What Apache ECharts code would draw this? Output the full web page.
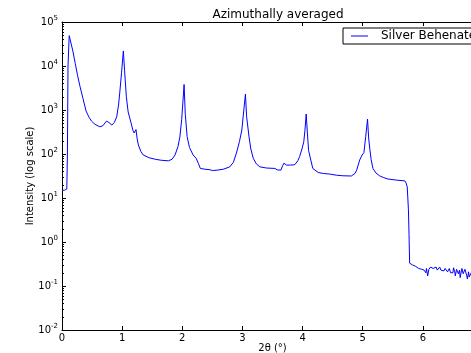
<!DOCTYPE html>
<html>
<head>
<meta charset="utf-8">
<script src="https://cdn.jsdelivr.net/npm/echarts@6/dist/echarts.min.js"></script>
<style>
  html, body { margin: 0; padding: 0; background: #fff; overflow: hidden; }
  #chart { width: 471px; height: 353px; }
</style>
</head>
<body>
<div id="chart"></div>
<script>
// 2theta positions (degrees)
const twoTheta = [
  0, 0.04, 0.08, 0.09, 0.10, 0.12, 0.14, 0.18, 0.22, 0.26, 0.30, 0.35, 0.40, 0.45, 0.49,
  0.55, 0.63, 0.68, 0.74, 0.78, 0.83, 0.87, 0.91, 0.94, 0.96, 0.99, 1.02, 1.04, 1.07, 1.10,
  1.15, 1.18, 1.20, 1.23, 1.25, 1.27, 1.31, 1.35, 1.45, 1.55, 1.65, 1.77, 1.83, 1.88, 1.93,
  1.96, 1.99, 2.01, 2.03, 2.05, 2.08, 2.12, 2.18, 2.23, 2.27, 2.30, 2.38, 2.46, 2.50, 2.58,
  2.68, 2.79, 2.85, 2.90, 2.95, 2.99, 3.02, 3.05, 3.07, 3.11, 3.14, 3.18, 3.23, 3.29, 3.40,
  3.54, 3.58, 3.64, 3.67, 3.69, 3.73, 3.80, 3.87, 3.92, 3.95, 3.99, 4.02, 4.04, 4.06, 4.08,
  4.10, 4.14, 4.17, 4.26, 4.35, 4.45, 4.56, 4.67, 4.81, 4.87, 4.90, 4.95, 4.99, 5.02, 5.05,
  5.08, 5.10, 5.12, 5.14, 5.17, 5.22, 5.28, 5.35, 5.42, 5.56, 5.70, 5.72, 5.74, 5.75, 5.76,
  5.77, 5.78, 5.80, 5.83, 5.86, 5.88, 5.90, 5.93, 5.95, 5.98, 6.00, 6.02, 6.03, 6.05, 6.06,
  6.08, 6.10, 6.11, 6.13, 6.15, 6.17, 6.18, 6.20, 6.22, 6.24, 6.26, 6.28, 6.30, 6.31, 6.33,
  6.35, 6.37, 6.39, 6.41, 6.42, 6.44, 6.46, 6.48, 6.50, 6.51, 6.53, 6.54, 6.56, 6.57, 6.59,
  6.61, 6.62, 6.64, 6.65, 6.67, 6.68, 6.70, 6.71, 6.73, 6.74, 6.76, 6.77, 6.79, 6.82, 6.86,
  6.90, 6.95, 7.00
];

// intensity (arbitrary units, log scale)
const intensity = [
  15, 15, 16, 100, 10000, 49000, 45000, 22000, 11500, 6000, 3400, 1800, 950, 680, 560,
  470, 415, 440, 560, 520, 455, 520, 700, 1300, 2450, 7000, 22000, 8000, 2000, 900,
  500, 340, 300, 360, 220, 160, 115, 95, 82, 76, 72, 70, 76, 95, 150,
  245, 600, 1500, 3800, 800, 250, 140, 95, 80, 60, 47, 45, 44, 42, 43,
  45, 51, 65, 105, 190, 350, 900, 2300, 700, 245, 130, 80, 60, 51, 48,
  47, 43.5, 43, 55, 62, 56, 56, 57, 70, 87, 130, 190, 350, 810, 300,
  120, 70, 47, 38, 36, 35, 33, 32, 31.6, 36, 43, 73, 95, 107, 250,
  620, 220, 124, 75, 47, 37, 32, 29, 27, 25.5, 24.5, 22, 18, 10, 5.4,
  1.5, 0.33, 0.32, 0.30, 0.29, 0.28, 0.27, 0.25, 0.26, 0.24, 0.255, 0.23, 0.25, 0.20, 0.25,
  0.17, 0.24, 0.23, 0.27, 0.29, 0.25, 0.26, 0.24, 0.27, 0.23, 0.25, 0.27, 0.23, 0.255, 0.22,
  0.22, 0.25, 0.245, 0.21, 0.19, 0.25, 0.20, 0.22, 0.20, 0.26, 0.21, 0.17, 0.24, 0.24, 0.19,
  0.23, 0.155, 0.22, 0.25, 0.19, 0.18, 0.24, 0.23, 0.17, 0.145, 0.21, 0.16, 0.17, 0.22, 0.16,
  0.20, 0.15, 0.19
];

const decades = [-2, -1, 0, 1, 2, 3, 4, 5];
const xTicks = [0, 1, 2, 3, 4, 5, 6, 7];

const minorTicks = [];
decades.slice(0, -1).forEach(d => {
  for (let k = 2; k <= 9; k++) minorTicks.push(d + Math.log10(k));
});

const chart = echarts.init(document.getElementById('chart'));
const FONT = 'DejaVu Sans';

chart.setOption({
  animation: false,
  textStyle: { fontFamily: FONT },
  title: {
    text: 'Azimuthally averaged',
    left: 273, top: 4,
    textAlign: 'center',
    textStyle: { fontSize: 12, fontWeight: 'normal', color: '#000', fontFamily: FONT }
  },
  legend: {
    data: [{ name: 'Silver Behenate', icon: 'rect' }],
    left: 343, top: 28,
    padding: [2, 30, 2, 8],
    borderColor: '#000', borderWidth: 1,
    itemWidth: 17, itemHeight: 1,
    itemStyle: { color: '#0000ff' },
    textStyle: { fontSize: 12, color: '#000', fontFamily: FONT, padding: [1, 0, 0, 8] }
  },
  grid: { left: 62, right: -12, top: 22, bottom: 23, outerBoundsMode: 'none', containLabel: false },
  xAxis: [
    {
      type: 'value', min: xTicks[0], max: xTicks[xTicks.length - 1], interval: 1,
      name: '2θ (°)', nameLocation: 'middle', nameGap: 13, nameMoveOverlap: false,
      nameTextStyle: { fontSize: 10, color: '#000', fontFamily: FONT },
      axisLine: { onZero: false, lineStyle: { color: '#000', width: 1 } },
      axisTick: { inside: true, length: 4, lineStyle: { color: '#000' } },
      axisLabel: { fontSize: 10, color: '#000', margin: 3, fontFamily: FONT },
      splitLine: { show: false }
    },
    {
      type: 'value', position: 'top', min: xTicks[0], max: xTicks[xTicks.length - 1], interval: 1,
      axisLine: { onZero: false, lineStyle: { color: '#000', width: 1 } },
      axisTick: { inside: true, length: 4, lineStyle: { color: '#000' } },
      axisLabel: { show: false },
      splitLine: { show: false }
    }
  ],
  yAxis: [
    {
      type: 'log', min: Math.pow(10, decades[0]), max: Math.pow(10, decades[decades.length - 1]),
      interval: 1, logBase: 10,
      name: 'Intensity (log scale)', nameLocation: 'middle', nameGap: 27, nameRotate: 90,
      nameMoveOverlap: false,
      nameTextStyle: { fontSize: 10, color: '#000', fontFamily: FONT },
      axisLine: { onZero: false, lineStyle: { color: '#000', width: 1 } },
      axisTick: { inside: true, length: 4, lineStyle: { color: '#000' } },
      axisLabel: {
        margin: 4,
        formatter: v => '{b|10}{s|' + Math.round(Math.log10(v)) + '}',
        rich: {
          b: { fontSize: 10, color: '#000', fontFamily: FONT },
          s: { fontSize: 7, color: '#000', fontFamily: FONT, padding: [0, 0, 7, 0] }
        }
      },
      splitLine: { show: false }
    },
    {
      type: 'value', position: 'left', min: decades[0], max: decades[decades.length - 1],
      axisLine: { show: false, onZero: false },
      axisTick: { inside: true, length: 2, customValues: minorTicks, lineStyle: { color: '#000' } },
      axisLabel: { show: false },
      splitLine: { show: false }
    }
  ],
  series: [
    {
      name: 'Silver Behenate',
      type: 'line',
      symbol: 'none',
      xAxisIndex: 0, yAxisIndex: 0,
      lineStyle: { color: '#0000ff', width: 1 },
      itemStyle: { color: '#0000ff' },
      data: twoTheta.map((t, i) => [t, intensity[i]])
    }
  ]
});
</script>
</body>
</html>
